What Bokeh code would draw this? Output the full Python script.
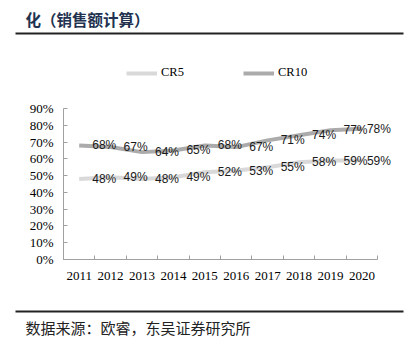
from bokeh.plotting import figure
from bokeh.layouts import column
from bokeh.models import (ColumnDataSource, FixedTicker, NumeralTickFormatter,
                          Legend, LegendItem, Range1d)
from bokeh.core.properties import value
from bokeh.embed import file_html
from bokeh.resources import INLINE

years = [2011, 2012, 2013, 2014, 2015, 2016, 2017, 2018, 2019, 2020]
cr5 = [0.48, 0.49, 0.48, 0.49, 0.52, 0.53, 0.55, 0.58, 0.59, 0.59]
cr10 = [0.68, 0.67, 0.64, 0.65, 0.68, 0.67, 0.71, 0.74, 0.77, 0.78]
y_ticks = [0.0, 0.1, 0.2, 0.3, 0.4, 0.5, 0.6, 0.7, 0.8, 0.9]
title_text = "化（销售额计算）"
source_text = "数据来源：欧睿，东吴证券研究所"
series_names = ["CR5", "CR10"]
colors = ["#D9D9D9", "#ABABAB"]

W = 416
HEAD_H, MAIN_H, FOOT_H = 88, 206, 50
tick_font = "Liberation Serif"
axis_color = "#A0A0A0"


def bare(height, y0):
    f = figure(width=W, height=height, output_backend="svg", toolbar_location=None,
               x_range=Range1d(0, W), y_range=Range1d(y0 + height, y0),
               min_border=0, min_border_left=0, min_border_right=0,
               min_border_top=0, min_border_bottom=0, frame_align=False,
               x_axis_type=None, y_axis_type=None)
    f.grid.grid_line_color = None
    f.outline_line_color = None
    f.background_fill_color = "white"
    f.border_fill_color = "white"
    return f


# ---- header: title, rule, legend
head = bare(HEAD_H, 0)
head.text(x=[25], y=[18], text=[title_text], text_font=value("Noto Sans CJK SC"),
          text_font_style="bold", text_font_size="15.5px", text_color="#22324F",
          text_baseline="middle", text_align="left")
head.line(x=[15, 403], y=[33, 33], line_color="#222222", line_width=2)
for name, col, lx in zip(series_names, colors, [126, 243]):
    dummy = head.line(x=[-100], y=[-100], line_color=col, line_width=4)
    lg = Legend(items=[LegendItem(label=name, renderers=[dummy])], location=(lx, 8),
                orientation="horizontal", padding=0, margin=0, spacing=0,
                glyph_width=31, glyph_height=10, label_standoff=4, label_height=10,
                label_text_font=tick_font, label_text_font_size="12.5px",
                label_text_color="black", background_fill_alpha=0, border_line_color=None)
    head.add_layout(lg)

# ---- main chart
p = figure(width=W, height=MAIN_H, output_backend="svg", toolbar_location=None,
           x_range=Range1d(years[0] - 0.5, years[-1] + 1.07), y_range=Range1d(0, 0.9),
           min_border_left=63, min_border_right=21, min_border_top=20, min_border_bottom=35,
           frame_align=False)
p.outline_line_color = None
p.grid.grid_line_color = None
p.background_fill_color = "white"
p.border_fill_color = "white"

p.xaxis.bounds = (years[0] - 0.5, years[-1] + 0.5)
p.xaxis.ticker = FixedTicker(ticks=years, minor_ticks=[y - 0.5 for y in years] + [years[-1] + 0.5])
p.xaxis.major_tick_line_color = None
p.xaxis.minor_tick_in = 4
p.xaxis.minor_tick_out = 0
p.xaxis.minor_tick_line_color = axis_color
p.xaxis.axis_line_color = axis_color
p.xaxis.major_label_text_font = tick_font
p.xaxis.major_label_text_font_size = "13px"
p.xaxis.major_label_text_color = "black"
p.xaxis.major_label_standoff = 6

p.yaxis.ticker = FixedTicker(ticks=y_ticks, minor_ticks=[])
p.yaxis.formatter = NumeralTickFormatter(format="0%")
p.yaxis.major_tick_in = 4
p.yaxis.major_tick_out = 0
p.yaxis.major_tick_line_color = axis_color
p.yaxis.axis_line_color = axis_color
p.yaxis.major_label_text_font = tick_font
p.yaxis.major_label_text_font_size = "13px"
p.yaxis.major_label_text_color = "black"
p.yaxis.major_label_standoff = 10

offsets = [13] * (len(years) - 1) + [5]
for name, vals, col in zip(series_names, [cr5, cr10], colors):
    src = ColumnDataSource(dict(x=years, y=vals,
                                lab=[f"{round(v * 100)}%" for v in vals], xo=offsets))
    p.line("x", "y", source=src, line_color=col, line_width=4)
    p.text("x", "y", text="lab", source=src, x_offset="xo", text_align="left",
           text_baseline="middle", text_font=value("Liberation Sans"),
           text_font_size="12px", text_color="#1a1a1a")

# ---- footer: rule, source
foot = bare(FOOT_H, HEAD_H + MAIN_H)
foot.line(x=[15, 403], y=[311, 311], line_color="#222222", line_width=2)
foot.text(x=[25], y=[327], text=[source_text], text_font=value("Noto Sans CJK SC"),
          text_font_size="15px", text_color="#222222", text_baseline="middle",
          text_align="left")

layout = column(head, p, foot, spacing=0)
open("out.html", "w").write(file_html(layout, INLINE))
